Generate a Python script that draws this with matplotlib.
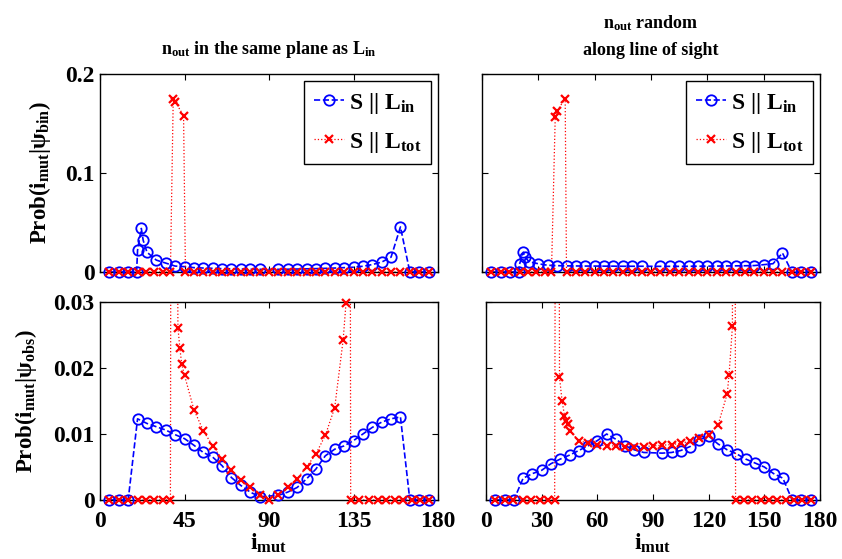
import matplotlib
matplotlib.use("Agg")
import matplotlib.pyplot as plt
from matplotlib.lines import Line2D
import numpy as np

# ---- data ----
# top-left: n_out in the same plane as L_in, Prob(i_mut | psi_bin)
tl_blue_x = [5, 10, 15, 19.5, 20, 22, 23, 25, 30, 35, 40, 45, 50, 55, 60, 65, 70, 75, 80, 85,
             95, 100, 105, 110, 115, 120, 125, 130, 135, 140, 145, 150, 155, 160, 165, 170, 175]
tl_blue_y = [0, 0, 0, 0, 0.022, 0.044, 0.032, 0.020, 0.012, 0.009, 0.006, 0.0054, 0.0044, 0.0040,
             0.0037, 0.0034, 0.0032, 0.0030, 0.0028, 0.0027, 0.0027, 0.0028, 0.0030, 0.0032, 0.0034,
             0.0037, 0.0040, 0.0044, 0.0048, 0.0058, 0.0075, 0.0100, 0.0150, 0.0455, 0, 0, 0]
tl_red_x = [5, 10, 15, 20, 24.5, 29, 33.5, 37.5, 39, 40, 44.5, 45.5, 50, 55, 60, 65, 70, 75, 80,
            85, 90, 95, 100, 105, 110, 115, 120, 125, 130, 135, 140, 145, 150, 155, 160, 165, 170, 175]
tl_red_y = [0, 0, 0, 0, 0, 0, 0, 0, 0.175, 0.172, 0.158, 0, 0, 0, 0, 0, 0, 0, 0,
            0, 0, 0, 0, 0, 0, 0, 0, 0, 0, 0, 0, 0, 0, 0, 0, 0, 0, 0]

# top-right: n_out random along line of sight, Prob(i_mut | psi_bin)
tr_blue_x = tl_blue_x
tr_blue_y = [0, 0, 0, 0, 0.008, 0.020, 0.015, 0.0105, 0.0083, 0.0068, 0.0064, 0.0062, 0.0061, 0.0060,
             0.0060, 0.0059, 0.0059, 0.0058, 0.0058, 0.0058, 0.0057, 0.0057, 0.0057, 0.0058, 0.0058,
             0.0059, 0.0060, 0.0061, 0.0062, 0.0063, 0.0065, 0.0074, 0.0084, 0.0192, 0, 0, 0]
tr_red_x = [5, 10, 14.5, 20, 24.5, 29, 33.5, 37, 39, 40, 44.3, 45, 50, 55, 60, 65, 70, 75, 80,
            85, 90, 95, 100, 105, 110, 115, 120, 125, 130, 135, 140, 145, 150, 155, 160, 165, 170, 175]
tr_red_y = [0, 0, 0, 0, 0, 0, 0, 0, 0.157, 0.163, 0.175, 0, 0, 0, 0, 0, 0, 0, 0,
            0, 0, 0, 0, 0, 0, 0, 0, 0, 0, 0, 0, 0, 0, 0, 0, 0, 0, 0]

# bottom-left: n_out in the same plane as L_in, Prob(i_mut | psi_obs)
bl_blue_x = [5, 10, 15, 20, 25, 30, 35, 40, 45, 50, 55, 60, 65, 70, 75, 80, 85,
             95, 100, 105, 110, 115, 120, 125, 130, 135, 140, 145, 150, 155, 160, 165, 170, 175]
bl_blue_y = [0, 0, 0, 0.0123, 0.0116, 0.0111, 0.0106, 0.0099, 0.0093, 0.0083, 0.0072, 0.0065,
             0.0052, 0.0034, 0.0022, 0.0012, 0.0005,
             0.0007, 0.0012, 0.0019, 0.0032, 0.0047, 0.0067, 0.0077, 0.0082, 0.0090, 0.0100,
             0.0110, 0.0118, 0.0123, 0.0126, 0, 0, 0]
bl_red_x = [5, 10, 15, 20, 24.5, 29, 33.5, 37.5, 38.5, 41.5, 42.5, 43.5, 45, 50, 55, 60, 65, 70,
            75, 80, 85, 90, 95, 100, 105, 110, 115, 120, 125, 129.5, 131, 132.5, 133.5, 138, 143,
            148, 152.5, 157, 161.5, 166, 170.5, 175]
bl_red_y = [0, 0, 0, 0, 0, 0, 0, 0, 0.2, 0.0261, 0.0231, 0.0206, 0.0189, 0.0137, 0.0105, 0.0082,
            0.0062, 0.0045, 0.0030, 0.0019, 0.0008, 0, 0.0008, 0.0019, 0.0032, 0.0050, 0.0070,
            0.0098, 0.0140, 0.0243, 0.0298, 0.2, 0, 0, 0, 0, 0, 0, 0, 0, 0, 0]

# bottom-right: n_out random along line of sight, Prob(i_mut | psi_obs)
br_blue_x = bl_blue_x
br_blue_y = [0, 0, 0, 0.0033, 0.0040, 0.0045, 0.0055, 0.0062, 0.0068, 0.0075, 0.0082, 0.0090,
             0.0100, 0.0092, 0.0082, 0.0076, 0.0072,
             0.0071, 0.0072, 0.0075, 0.0081, 0.0091, 0.0097, 0.0085, 0.0076, 0.0070, 0.0062,
             0.0056, 0.0050, 0.0040, 0.0033, 0, 0, 0]
br_red_x = [5, 10, 14.5, 20, 24.5, 29, 33.5, 37, 38.5, 39.6, 41, 42.3, 43.2, 44, 45, 50, 55, 60,
            65, 70, 75, 80, 85, 90, 95, 100, 105, 110, 115, 120, 125, 130, 131, 132.8, 133.5,
            134.5, 139, 143.5, 148, 152.5, 157, 161.5, 166, 170.5, 175]
br_red_y = [0, 0, 0, 0, 0, 0, 0, 0, 0.2, 0.0186, 0.0150, 0.0128, 0.0120, 0.0115, 0.0105, 0.0090,
            0.0086, 0.0084, 0.0082, 0.0082, 0.0081, 0.0081, 0.0081, 0.0082, 0.0083, 0.0084,
            0.0086, 0.0089, 0.0094, 0.0099, 0.0113, 0.0161, 0.0190, 0.0263, 0.2,
            0, 0, 0, 0, 0, 0, 0, 0, 0, 0]

left_xticks = [0, 45, 90, 135, 180]
right_xticks = [0, 30, 60, 90, 120, 150, 180]
top_yticks = [0, 0.1, 0.2]
top_ylabels = ["0", "0.1", "0.2"]
bot_yticks = [0, 0.01, 0.02, 0.03]
bot_ylabels = ["0", "0.01", "0.02", "0.03"]

legend_labels = ["S || L$_{in}$", "S || L$_{tot}$"]

plt.rcParams['font.family'] = 'Liberation Serif'
plt.rcParams['font.weight'] = 'bold'
plt.rcParams['axes.labelweight'] = 'bold'
plt.rcParams['mathtext.fontset'] = 'custom'
plt.rcParams['mathtext.rm'] = 'Liberation Serif:bold'
plt.rcParams['mathtext.it'] = 'Liberation Serif:bold'
plt.rcParams['mathtext.bf'] = 'Liberation Serif:bold'

BLUE_STYLE = dict(color='blue', marker='o', mfc='none', mec='blue', ms=7.5, mew=1.3)
RED_STYLE = dict(color='red', marker='x', ms=6, mew=1.6)


def draw_panel(ax, bx, by, rx, ry, top):
    bx, by, rx, ry = map(np.asarray, (bx, by, rx, ry))
    ax.plot(bx, by, '--', color='blue', lw=1.2)
    ax.plot(rx, ry, ':', color='red', lw=0.9)
    vis = by <= top
    ax.plot(bx[vis], by[vis], ls='none', clip_on=False, zorder=3, **BLUE_STYLE)
    vis = ry <= top
    ax.plot(rx[vis], ry[vis], ls='none', clip_on=False, zorder=4, **RED_STYLE)
    ax.set_xlim(0, 180)
    ax.set_ylim(0, top)
    ax.tick_params(direction='in', top=True, right=True, length=4, width=0.8,
                   labelsize=17)
    ax.tick_params(axis='x', pad=8)
    ax.tick_params(axis='y', pad=4)
    for s in ax.spines.values():
        s.set_linewidth(1.0)


def add_legend(ax):
    handles = [Line2D([], [], ls='--', lw=1.2, **BLUE_STYLE),
               Line2D([], [], ls=':', lw=0.9, **RED_STYLE)]
    leg = ax.legend(handles, legend_labels, loc='upper right', fontsize=17,
                    fancybox=False, edgecolor='black', framealpha=1,
                    borderaxespad=0.3, handlelength=1.3, handletextpad=0.2,
                    labelspacing=0.6, borderpad=0.4)
    leg.get_frame().set_linewidth(1.0)


fig = plt.figure(figsize=(8.42, 5.59), dpi=100)
W, H = 842.0, 559.0
ax_tl = fig.add_axes([100 / W, 1 - 272 / H, 338 / W, 198 / H])
ax_tr = fig.add_axes([482 / W, 1 - 272 / H, 338 / W, 198 / H])
ax_bl = fig.add_axes([100 / W, 1 - 500 / H, 338 / W, 198 / H])
ax_br = fig.add_axes([486 / W, 1 - 500 / H, 334 / W, 198 / H])

draw_panel(ax_tl, tl_blue_x, tl_blue_y, tl_red_x, tl_red_y, 0.2)
draw_panel(ax_tr, tr_blue_x, tr_blue_y, tr_red_x, tr_red_y, 0.2)
draw_panel(ax_bl, bl_blue_x, bl_blue_y, bl_red_x, bl_red_y, 0.03)
draw_panel(ax_br, br_blue_x, br_blue_y, br_red_x, br_red_y, 0.03)

for ax in (ax_tl, ax_bl):
    ax.set_xticks(left_xticks)
for ax in (ax_tr, ax_br):
    ax.set_xticks(right_xticks)
    ax.tick_params(labelleft=False)
for ax in (ax_tl, ax_tr):
    ax.set_yticks(top_yticks)
    ax.tick_params(labelbottom=False)
for ax in (ax_bl, ax_br):
    ax.set_yticks(bot_yticks)
    ax.set_xlabel("i$_{mut}$", fontsize=17, labelpad=0)

ax_tl.set_yticklabels(top_ylabels)
ax_bl.set_yticklabels(bot_ylabels)
ax_tl.set_ylabel("Prob(i$_{mut}$|\u03c8$_{bin}$)", fontsize=16.5)
ax_tl.yaxis.set_label_coords(-0.14, 0.5)
ax_bl.set_ylabel("Prob(i$_{mut}$|\u03c8$_{obs}$)", fontsize=16.5)
ax_bl.yaxis.set_label_coords(-0.18, 0.5)

add_legend(ax_tl)
add_legend(ax_tr)

fig.text(269 / W, 1 - 50 / H, "n$_{out}$ in the same plane as L$_{in}$",
         ha='center', va='center', fontsize=13)
fig.text(651 / W, 1 - 36 / H, "n$_{out}$ random\nalong line of sight",
         ha='center', va='center', fontsize=13, linespacing=1.7)

fig.savefig("out.png", dpi=100)
